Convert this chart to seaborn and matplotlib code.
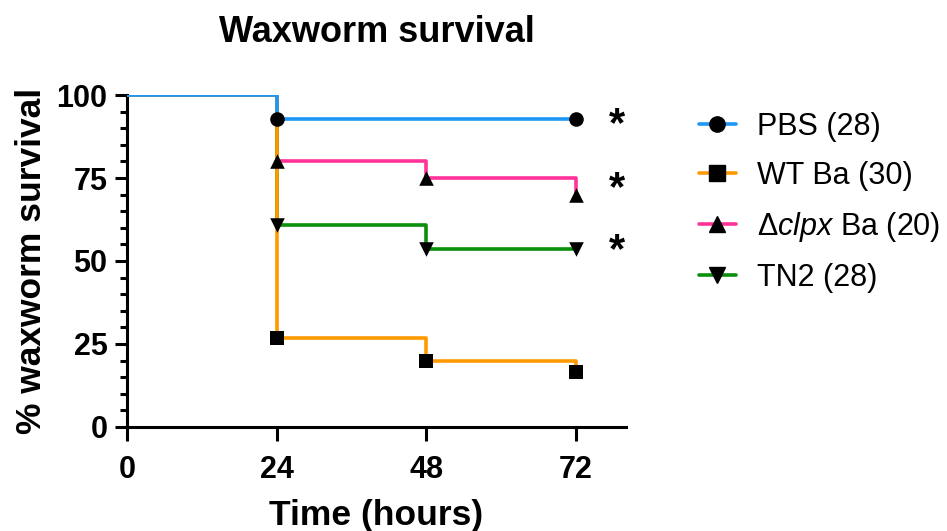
import matplotlib
matplotlib.use("Agg")
import matplotlib.pyplot as plt
from matplotlib.lines import Line2D
from matplotlib.ticker import MultipleLocator
import seaborn as sns
import pandas as pd

sns.set_style("white")
plt.rcParams['font.family'] = ['Liberation Sans', 'DejaVu Sans']
plt.rcParams['mathtext.fontset'] = 'custom'
plt.rcParams['mathtext.it'] = 'Liberation Sans:italic'
plt.rcParams['mathtext.rm'] = 'Liberation Sans'
for k in ['text.color', 'axes.labelcolor', 'xtick.color', 'ytick.color', 'axes.edgecolor']:
    plt.rcParams[k] = 'black'

# Data
times = [0, 24, 48, 72]
groups = ["PBS (28)", "WT Ba (30)", r"$\Delta\it{clpx}$ Ba (20)", "TN2 (28)"]
pbs = [100, 92.86, 92.86, 92.86]
wt = [100, 26.67, 20.0, 16.67]
clpx = [100, 80.0, 75.0, 70.0]
tn2 = [100, 60.71, 53.57, 53.57]
series = [pbs, wt, clpx, tn2]
# time points that carry a symbol (events / end of follow-up)
pbs_sym_t = [24, 72]
wt_sym_t = [24, 48, 72]
clpx_sym_t = [24, 48, 72]
tn2_sym_t = [24, 48, 72]
sym_times = [pbs_sym_t, wt_sym_t, clpx_sym_t, tn2_sym_t]
colors = ["#1E96F5", "#FF9900", "#FF3399", "#0A8F0A"]
markers = ["o", "s", "^", "v"]
signif = ["*", "", "*", "*"]
star_offsets = [-1.8, 0, 1.6, -0.7]

fig = plt.figure(figsize=(9.47, 5.31), dpi=100)
ax = fig.add_axes([0.134, 0.196, 0.527, 0.625])

zorders = [6, 5, 3, 4]
for vals, c, z in zip(series, colors, zorders):
    df = pd.DataFrame({"t": times, "s": vals})
    sns.lineplot(data=df, x="t", y="s", ax=ax, color=c, lw=2.6,
                 drawstyle="steps-post", zorder=z, legend=False)
for vals, st, m in zip(series, sym_times, markers):
    sv = [vals[times.index(t)] for t in st]
    df = pd.DataFrame({"t": st, "s": sv})
    sns.scatterplot(data=df, x="t", y="s", ax=ax, marker=m, color="black",
                    s=110, edgecolor="black", linewidth=0, zorder=10,
                    legend=False)

for vals, sg, off in zip(series, signif, star_offsets):
    if sg:
        ax.text(78.5, vals[-1] + off, sg, fontsize=30, fontweight='bold',
                ha='center', va='center')

ax.set_xlim(0, 80)
ax.set_ylim(0, 100)
ax.set_xticks(times)
ax.set_yticks([0, 25, 50, 75, 100])
ax.yaxis.set_minor_locator(MultipleLocator(5))
for s in ['top', 'right']:
    ax.spines[s].set_visible(False)
for s in ['left', 'bottom']:
    ax.spines[s].set_linewidth(2.2)
ax.tick_params(axis='both', which='major', width=2.2, labelsize=22,
               left=True, bottom=True)
ax.tick_params(axis='x', which='major', length=10, pad=10)
ax.tick_params(axis='y', which='major', length=9, pad=5)
ax.tick_params(axis='y', which='minor', length=5, width=2.2, left=True)
for lbl in ax.get_xticklabels() + ax.get_yticklabels():
    lbl.set_fontweight('bold')
ax.set_xlabel("Time (hours)", fontsize=25.5, fontweight='bold', labelpad=10)
ax.set_ylabel("% waxworm survival", fontsize=25.5, fontweight='bold', labelpad=6)
ax.set_title("Waxworm survival", fontsize=26, fontweight='bold', pad=38)

handles = [Line2D([0], [0], color=c, lw=2.6, marker=m, markersize=11,
                  markerfacecolor='black', markeredgecolor='black')
           for c, m in zip(colors, markers)]
leg = fig.legend(handles, groups, loc='upper left', bbox_to_anchor=(0.709, 0.841),
                 frameon=False, fontsize=22, handlelength=1.2, handletextpad=0.7,
                 labelspacing=0.62)

fig.savefig("out.png", dpi=100)
